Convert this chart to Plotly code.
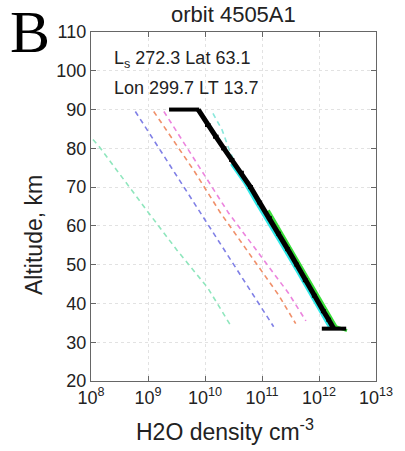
import plotly.graph_objects as go

# ---------------- data ----------------
alt_ticks = [20, 30, 40, 50, 60, 70, 80, 90, 100, 110]
x_tickvals = [1e8, 1e9, 1e10, 1e11, 1e12, 1e13]
x_ticktext = ["10<sup>8</sup>", "10<sup>9</sup>", "10<sup>10</sup>",
              "10<sup>11</sup>", "10<sup>12</sup>", "10<sup>13</sup>"]

# retrieved profile (thick black) with horizontal error bars
obs_alt = [90, 86, 83, 80, 77, 73.7, 70, 66, 62, 58, 54, 50, 46, 42, 38, 35.8, 33.5]
obs_dens = [7.6e9, 1.12e10, 1.55e10, 2.14e10, 2.95e10, 4.37e10, 6.3e10, 9.1e10,
            1.35e11, 1.95e11, 2.82e11, 4.07e11, 5.75e11, 8.3e11, 1.2e12, 1.48e12, 1.82e12]
obs_lo = [2.34e9, 1.0e10, 1.38e10, 1.92e10, 2.65e10, 3.95e10, 5.7e10, 8.3e10,
          1.22e11, 1.77e11, 2.55e11, 3.7e11, 5.2e11, 7.5e11, 1.08e12, 1.34e12, 1.12e12]
obs_hi = [7.9e9, 1.25e10, 1.73e10, 2.38e10, 3.28e10, 4.8e10, 6.95e10, 1.0e11,
          1.49e11, 2.15e11, 3.1e11, 4.45e11, 6.3e11, 9.1e11, 1.32e12, 1.62e12, 3.0e12]

# cyan solid companion (left edge of black)
cyan_alt = [76, 71, 66, 60, 54, 48, 42, 37, 33.5]
cyan_dens = [2.9e10, 5.0e10, 7.9e10, 1.41e11, 2.45e11, 4.27e11, 7.2e11, 1.15e12, 1.58e12]

# green solid companion (right edge of black)
green_alt = [64, 58, 52, 46, 40, 36, 34, 33]
green_dens = [1.29e11, 2.24e11, 3.9e11, 6.6e11, 1.15e12, 1.66e12, 2.0e12, 3.1e12]

# dashed model profiles
teal_alt = [84, 80.4, 64, 53.8, 44, 34]
teal_dens = [8.5e7, 1.4e8, 9.5e8, 3.2e9, 1.12e10, 2.9e10]

blue_alt = [89.5, 70, 52, 34]
blue_dens = [6.0e8, 4.3e9, 2.6e10, 1.6e11]

orange_alt = [89.5, 74.4, 63.4, 42.2, 34.8]
orange_dens = [1.26e9, 6.3e9, 1.86e10, 1.95e11, 3.9e11]

pink_alt = [89.5, 74.4, 63.4, 42.7, 35.5]
pink_dens = [1.9e9, 8.5e9, 2.57e10, 2.9e11, 5.9e11]

cyandash_alt = [89, 84.7, 80, 76]
cyandash_dens = [1.38e10, 2.0e10, 2.6e10, 3.4e10]

# ---------------- figure ----------------
fig = go.Figure()

def dashed(x, y, color):
    fig.add_trace(go.Scatter(x=x, y=y, mode="lines",
                             line=dict(color=color, width=1.6, dash="5px,4px"),
                             hoverinfo="skip"))

dashed(teal_dens, teal_alt, "#8fe6bd")
dashed(blue_dens, blue_alt, "#8080e6")
dashed(orange_dens, orange_alt, "#f0906a")
dashed(pink_dens, pink_alt, "#ec84de")
dashed(cyandash_dens, cyandash_alt, "#8ae8dc")

fig.add_trace(go.Scatter(x=cyan_dens, y=cyan_alt, mode="lines",
                         line=dict(color="#30e8e8", width=3)))
fig.add_trace(go.Scatter(x=green_dens, y=green_alt, mode="lines",
                         line=dict(color="#3ade3a", width=3)))

err_plus = [h - d for h, d in zip(obs_hi, obs_dens)]
err_minus = [d - l for d, l in zip(obs_dens, obs_lo)]
fig.add_trace(go.Scatter(
    x=obs_dens, y=obs_alt, mode="lines",
    line=dict(color="black", width=5),
    error_x=dict(type="data", symmetric=False, array=err_plus, arrayminus=err_minus,
                 color="black", thickness=4, width=0),
))

axis_common = dict(
    showline=True, linecolor="#666", linewidth=1.2, mirror="allticks",
    ticks="inside", ticklen=5, tickcolor="#666",
    showgrid=True, gridcolor="#e2e2e2", griddash="dot", gridwidth=1,
    zeroline=False,
    tickfont=dict(family="Liberation Sans, Arial", size=18, color="#222"),
)

fig.update_layout(
    width=405, height=451,
    margin=dict(l=91, r=19, t=32, b=70),
    paper_bgcolor="white", plot_bgcolor="white",
    showlegend=False,
    xaxis=dict(type="log", range=[8, 13], tickvals=x_tickvals, ticktext=x_ticktext,
               **axis_common),
    yaxis=dict(range=[20, 110], tickvals=alt_ticks, **axis_common),
    font=dict(family="Liberation Sans, Arial", color="#222"),
)

fig.add_annotation(text="B", xref="paper", yref="paper", x=-0.29, y=1.0,
                   xanchor="left", yanchor="middle", showarrow=False,
                   font=dict(family="Liberation Serif, Times New Roman", size=60, color="black"))
fig.add_annotation(text="orbit 4505A1", xref="paper", yref="paper", x=0.5, y=1.05,
                   xanchor="center", yanchor="middle", showarrow=False,
                   font=dict(size=22, color="#222"))
fig.add_annotation(text="L<sub>s</sub> 272.3 Lat 63.1", xref="paper", yref="paper",
                   x=0.072, y=0.92, xanchor="left", yanchor="middle", showarrow=False,
                   font=dict(size=18, color="#222"))
fig.add_annotation(text="Lon 299.7 LT 13.7", xref="paper", yref="paper",
                   x=0.072, y=0.84, xanchor="left", yanchor="middle", showarrow=False,
                   font=dict(size=18, color="#222"))
fig.add_annotation(text="Altitude, km", xref="paper", yref="paper",
                   x=(32 - 91) / 295, y=(381 - 235) / 349, textangle=-90,
                   xanchor="center", yanchor="middle", showarrow=False,
                   font=dict(size=23, color="#222"))
fig.add_annotation(text="H2O density cm<sup>-3</sup>", xref="paper", yref="paper",
                   x=(230 - 91) / 295, y=(381 - 430) / 349,
                   xanchor="center", yanchor="middle", showarrow=False,
                   font=dict(size=23, color="#222"))

fig.write_html("out.html")
